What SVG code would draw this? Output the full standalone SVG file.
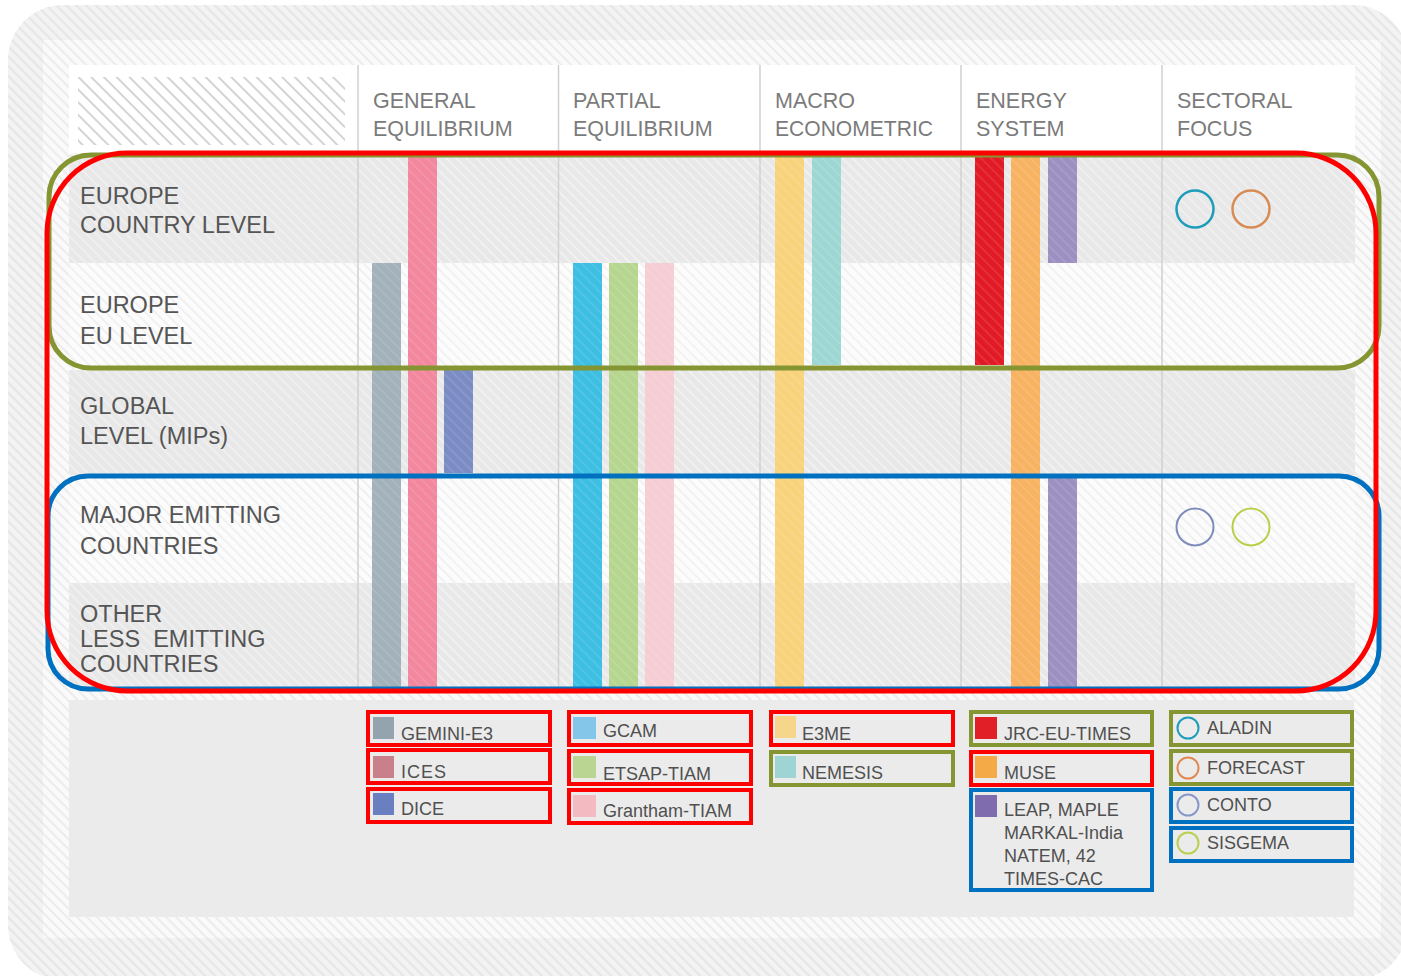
<svg xmlns="http://www.w3.org/2000/svg" width="1401" height="976" viewBox="0 0 1401 976">
<defs>
<pattern id="hOuter" width="7" height="7" patternUnits="userSpaceOnUse" patternTransform="rotate(-45)">
<rect width="7" height="7" fill="#f3f3f3"/><rect width="2.2" height="7" fill="#e6e6e6"/>
</pattern>
<pattern id="hInner" width="7" height="7" patternUnits="userSpaceOnUse" patternTransform="rotate(-45)">
<rect width="7" height="7" fill="#fafafa"/><rect width="2" height="7" fill="#ececec"/>
</pattern>
<pattern id="hGray" width="7" height="7" patternUnits="userSpaceOnUse" patternTransform="rotate(-45)">
<rect width="7" height="7" fill="#e8e8e8"/><rect width="1.6" height="7" fill="#f1f1f1"/>
</pattern>
<pattern id="hWhite" width="7" height="7" patternUnits="userSpaceOnUse" patternTransform="rotate(-45)">
<rect width="7" height="7" fill="#fcfcfc"/><rect width="1.6" height="7" fill="#eeeeee"/>
</pattern>
<pattern id="hCell" width="9" height="9" patternUnits="userSpaceOnUse" patternTransform="rotate(-45)">
<rect width="9" height="9" fill="#ffffff"/><rect width="2" height="9" fill="#d4d4d4"/>
</pattern>
<pattern id="hBar" width="7" height="7" patternUnits="userSpaceOnUse" patternTransform="rotate(-45)">
<rect width="1.6" height="7" fill="#ffffff" fill-opacity="0.12"/>
</pattern>
</defs>
<style>
.hdr{font-family:"Liberation Sans",Arial,sans-serif;font-size:21.5px;fill:#7b7b7b}
.lbl{font-family:"Liberation Sans",Arial,sans-serif;font-size:23.5px;fill:#555555}
.leg{font-family:"Liberation Sans",Arial,sans-serif;font-size:18px;fill:#505050}
.div{stroke:#d0d0d0;stroke-width:1.5}
.frame{fill:none;stroke-width:5}
.lbox{fill:none;stroke-width:4}
.sw{stroke:none}
</style>

<g id="background">
<rect x="8" y="5" width="1400" height="975" rx="55" fill="url(#hOuter)"/>
<rect x="43" y="40" width="1338" height="898" fill="url(#hInner)"/>
<rect x="69" y="65" width="1286" height="88" fill="#ffffff"/>
<rect x="78" y="77" width="267" height="68" fill="url(#hCell)"/>
<rect x="69" y="700" width="1285" height="217" fill="#ebebeb"/>
</g>

<g id="rows">
<g id="row-europe-country"><rect x="69" y="155" width="1286" height="108" fill="url(#hGray)"/>
<text class="lbl" x="80" y="204">EUROPE</text><text class="lbl" x="80" y="233">COUNTRY LEVEL</text></g>
<g id="row-europe-eu"><rect x="69" y="263" width="1286" height="107" fill="url(#hWhite)"/>
<text class="lbl" x="80" y="313">EUROPE</text><text class="lbl" x="80" y="344">EU LEVEL</text></g>
<g id="row-global"><rect x="69" y="370" width="1286" height="105" fill="url(#hGray)"/>
<text class="lbl" x="80" y="414">GLOBAL</text><text class="lbl" x="80" y="444">LEVEL (MIPs)</text></g>
<g id="row-major"><rect x="69" y="475" width="1286" height="108" fill="url(#hWhite)"/>
<text class="lbl" x="80" y="523">MAJOR EMITTING</text><text class="lbl" x="80" y="554">COUNTRIES</text></g>
<g id="row-other"><rect x="69" y="583" width="1286" height="105" fill="url(#hGray)"/>
<text class="lbl" x="80" y="622">OTHER</text><text class="lbl" x="80" y="647" xml:space="preserve">LESS  EMITTING</text><text class="lbl" x="80" y="672">COUNTRIES</text></g>
</g>

<g id="columns">
<line class="div" x1="358" y1="65" x2="358" y2="688"/>
<line class="div" x1="558.5" y1="65" x2="558.5" y2="688"/>
<line class="div" x1="760" y1="65" x2="760" y2="688"/>
<line class="div" x1="961" y1="65" x2="961" y2="688"/>
<line class="div" x1="1162" y1="65" x2="1162" y2="688"/>
<g id="col-general"><text class="hdr" x="373" y="108">GENERAL</text><text class="hdr" x="373" y="136">EQUILIBRIUM</text></g>
<g id="col-partial"><text class="hdr" x="573" y="108">PARTIAL</text><text class="hdr" x="573" y="136">EQUILIBRIUM</text></g>
<g id="col-macro"><text class="hdr" x="775" y="108">MACRO</text><text class="hdr" x="775" y="136" textLength="158" lengthAdjust="spacingAndGlyphs">ECONOMETRIC</text></g>
<g id="col-energy"><text class="hdr" x="976" y="108">ENERGY</text><text class="hdr" x="976" y="136">SYSTEM</text></g>
<g id="col-sectoral"><text class="hdr" x="1177" y="108">SECTORAL</text><text class="hdr" x="1177" y="136">FOCUS</text></g>
</g>

<g id="bars">
<rect id="bar-gemini" x="372" y="263" width="29" height="425" fill="#a2b1ba"/>
<rect id="bar-ices" x="408" y="155" width="29" height="533" fill="#f2879e"/>
<rect id="bar-dice" x="444" y="370" width="29" height="103" fill="#7b8bc4"/>
<rect id="bar-gcam" x="573" y="263" width="29" height="425" fill="#3dbee3"/>
<rect id="bar-etsap" x="609" y="263" width="29" height="425" fill="#b6d68f"/>
<rect id="bar-grantham" x="645" y="263" width="29" height="425" fill="#f5cdd3"/>
<rect id="bar-e3me" x="775" y="155" width="29" height="533" fill="#f8d37c"/>
<rect id="bar-nemesis" x="812" y="155" width="29" height="210" fill="#9dd7d4"/>
<rect id="bar-jrc" x="975" y="155" width="29" height="210" fill="#e11a25"/>
<rect id="bar-muse" x="1011" y="155" width="29" height="533" fill="#f7b262"/>
<rect id="bar-leap-a" x="1048" y="155" width="29" height="108" fill="#9c90c1"/>
<rect id="bar-leap-b" x="1048" y="475" width="29" height="213" fill="#9c90c1"/>
<rect x="372" y="155" width="710" height="533" fill="url(#hBar)"/>
<circle id="c-aladin" cx="1195" cy="209" r="18.5" fill="none" stroke="#1d9dba" stroke-width="2.5"/>
<circle id="c-forecast" cx="1251" cy="209" r="18.5" fill="none" stroke="#d88c55" stroke-width="2.5"/>
<circle id="c-conto" cx="1195" cy="527" r="18.5" fill="none" stroke="#7d8cba" stroke-width="2"/>
<circle id="c-sisgema" cx="1251" cy="527" r="18.5" fill="none" stroke="#b6d048" stroke-width="2"/>
</g>

<g id="frames">
<rect id="frame-blue" class="frame" x="48" y="476" width="1331" height="213" rx="40" stroke="#0070c0"/>
<rect id="frame-green" class="frame" x="49" y="155" width="1330" height="213" rx="42" stroke="#849531"/>
<rect id="frame-red" class="frame" x="47" y="153" width="1329" height="538" rx="80" stroke="#ff0000"/>
</g>

<g id="legend">
<g id="leg-gemini"><rect class="lbox" x="368" y="712" width="182" height="33" stroke="#ff0000"/><rect class="sw" x="373" y="717" width="21" height="22" fill="#93a4af"/><text class="leg" x="401" y="740">GEMINI-E3</text></g>
<g id="leg-ices"><rect class="lbox" x="368" y="750" width="182" height="33" stroke="#ff0000"/><rect class="sw" x="373" y="756" width="21" height="22" fill="#c9808a"/><text class="leg" x="401" y="778" letter-spacing="1">ICES</text></g>
<g id="leg-dice"><rect class="lbox" x="368" y="789" width="182" height="33" stroke="#ff0000"/><rect class="sw" x="373" y="793" width="21" height="22" fill="#6a7fbf"/><text class="leg" x="401" y="815">DICE</text></g>

<g id="leg-gcam"><rect class="lbox" x="569" y="712" width="182" height="33" stroke="#ff0000"/><rect class="sw" x="573" y="717" width="23" height="22" fill="#84c6ea"/><text class="leg" x="603" y="737">GCAM</text></g>
<g id="leg-etsap"><rect class="lbox" x="569" y="751" width="182" height="33" stroke="#ff0000"/><rect class="sw" x="573" y="756" width="23" height="22" fill="#bad491"/><text class="leg" x="603" y="780">ETSAP-TIAM</text></g>
<g id="leg-grantham"><rect class="lbox" x="569" y="790" width="182" height="33" stroke="#ff0000"/><rect class="sw" x="573" y="795" width="23" height="22" fill="#f3bac2"/><text class="leg" x="603" y="817">Grantham-TIAM</text></g>

<g id="leg-e3me"><rect class="lbox" x="771" y="712" width="182" height="33" stroke="#ff0000"/><rect class="sw" x="775" y="716" width="21" height="22" fill="#f6d68b"/><text class="leg" x="802" y="740">E3ME</text></g>
<g id="leg-nemesis"><rect class="lbox" x="771" y="752" width="182" height="33" stroke="#849531"/><rect class="sw" x="775" y="756" width="21" height="22" fill="#9fd4d4"/><text class="leg" x="802" y="779">NEMESIS</text></g>

<g id="leg-jrc"><rect class="lbox" x="971" y="712" width="181" height="33" stroke="#849531"/><rect class="sw" x="975" y="717" width="22" height="22" fill="#e11f27"/><text class="leg" x="1004" y="740">JRC-EU-TIMES</text></g>
<g id="leg-muse"><rect class="lbox" x="971" y="752" width="181" height="33" stroke="#ff0000"/><rect class="sw" x="975" y="756" width="22" height="22" fill="#f5aa48"/><text class="leg" x="1004" y="779">MUSE</text></g>
<g id="leg-leap"><rect class="lbox" x="971" y="790" width="181" height="100" stroke="#0070c0"/><rect class="sw" x="975" y="795" width="22" height="22" fill="#7f6cae"/>
<text class="leg" x="1004" y="816">LEAP, MAPLE</text><text class="leg" x="1004" y="839">MARKAL-India</text><text class="leg" x="1004" y="862">NATEM, 42</text><text class="leg" x="1004" y="885">TIMES-CAC</text></g>

<g id="leg-aladin"><rect class="lbox" x="1171" y="712" width="181" height="33" stroke="#849531"/><circle cx="1188" cy="728" r="10.5" fill="none" stroke="#1d9dba" stroke-width="2"/><text class="leg" x="1207" y="734">ALADIN</text></g>
<g id="leg-forecast"><rect class="lbox" x="1171" y="751" width="181" height="33" stroke="#849531"/><circle cx="1188" cy="768" r="10.5" fill="none" stroke="#e08a52" stroke-width="2"/><text class="leg" x="1207" y="774">FORECAST</text></g>
<g id="leg-conto"><rect class="lbox" x="1171" y="789" width="181" height="33" stroke="#0070c0"/><circle cx="1188" cy="805" r="10.5" fill="none" stroke="#8898c8" stroke-width="2"/><text class="leg" x="1207" y="811">CONTO</text></g>
<g id="leg-sisgema"><rect class="lbox" x="1171" y="828" width="181" height="33" stroke="#0070c0"/><circle cx="1188" cy="843" r="10.5" fill="none" stroke="#b8d050" stroke-width="2"/><text class="leg" x="1207" y="849">SISGEMA</text></g>
</g>
</svg>
